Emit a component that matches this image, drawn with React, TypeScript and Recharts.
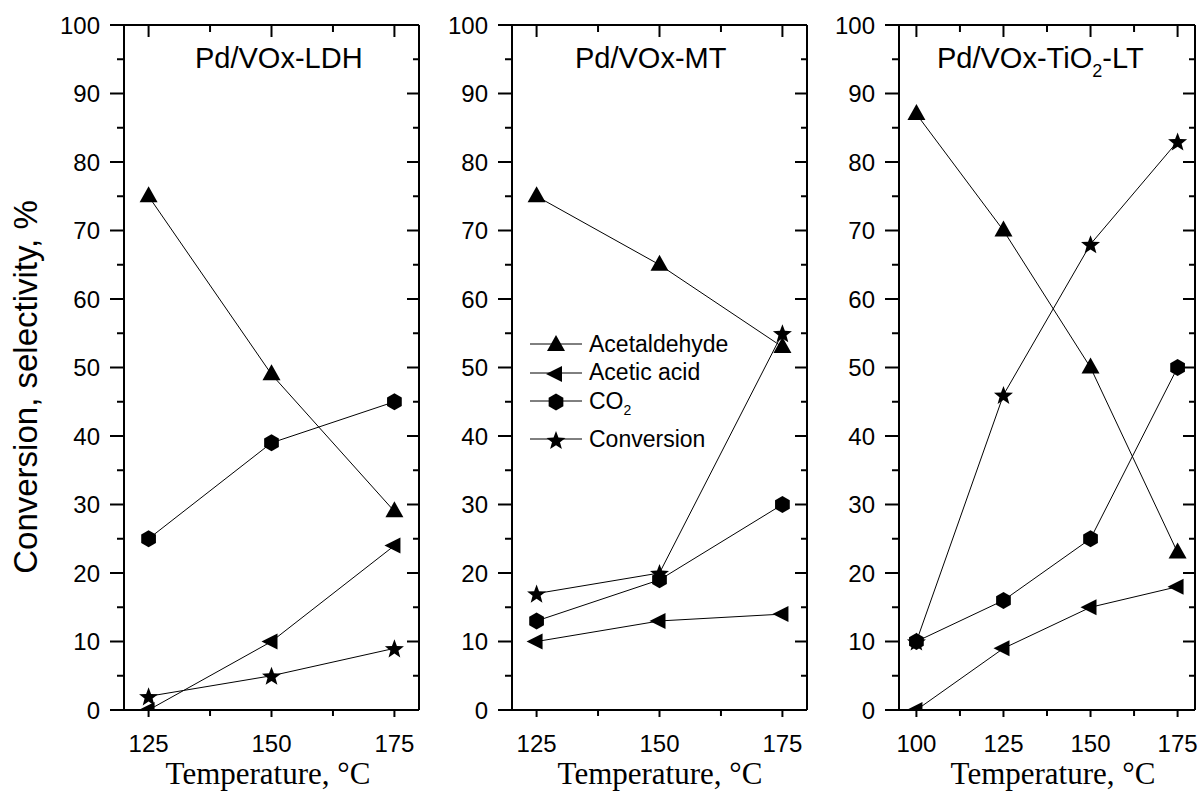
import React from 'react';
import { LineChart, Line, XAxis, YAxis, Legend } from 'recharts';

const W = 1202;
const H = 791;
const PLOT_TOP = 25;
const PLOT_BOTTOM = 710;
const SANS = 'Liberation Sans, Arial, Helvetica, sans-serif';
const SERIF = 'Liberation Serif, Times New Roman, serif';

// ---- data ----
const ldhTemps = [125, 150, 175];
const ldhAcetaldehyde = [75, 49, 29];
const ldhAceticAcid = [0, 10, 24];
const ldhCO2 = [25, 39, 45];
const ldhConversion = [2, 5, 9];

const mtTemps = [125, 150, 175];
const mtAcetaldehyde = [75, 65, 53];
const mtAceticAcid = [10, 13, 14];
const mtCO2 = [13, 19, 30];
const mtConversion = [17, 20, 55];

const tiTemps = [100, 125, 150, 175];
const tiAcetaldehyde = [87, 70, 50, 23];
const tiAceticAcid = [0, 9, 15, 18];
const tiCO2 = [10, 16, 25, 50];
const tiConversion = [10, 46, 68, 83];

const yTicks = [0, 5, 10, 15, 20, 25, 30, 35, 40, 45, 50, 55, 60, 65, 70, 75, 80, 85, 90, 95, 100];
const xTicksShort = [125, 137.5, 150, 162.5, 175];
const xTicksLong = [100, 112.5, 125, 137.5, 150, 162.5, 175];

// legend order
const seriesNames = ['Acetaldehyde', 'Acetic acid', 'CO2', 'Conversion'];
const seriesKeys = ['acetaldehyde', 'aceticAcid', 'co2', 'conversion'];
const seriesShapes = ['triUp', 'triLeft', 'hex', 'star'];
// drawing order (CO2 markers are drawn over the conversion stars)
const drawOrder = [0, 1, 3, 2];

function buildRows(temps: number[], a: number[], b: number[], c: number[], d: number[]) {
  return temps.map((t, i) => ({ t, acetaldehyde: a[i], aceticAcid: b[i], co2: c[i], conversion: d[i] }));
}

const ldhData = buildRows(ldhTemps, ldhAcetaldehyde, ldhAceticAcid, ldhCO2, ldhConversion);
const mtData = buildRows(mtTemps, mtAcetaldehyde, mtAceticAcid, mtCO2, mtConversion);
const tiData = buildRows(tiTemps, tiAcetaldehyde, tiAceticAcid, tiCO2, tiConversion);

// ---- markers ----
function Marker({ shape, cx, cy }: { shape: string; cx: number; cy: number }) {
  if (cx == null || cy == null || isNaN(cx) || isNaN(cy)) return null;
  if (shape === 'triUp') {
    return <polygon points={`${cx},${cy - 10} ${cx + 9},${cy + 6} ${cx - 9},${cy + 6}`} fill="#000" />;
  }
  if (shape === 'triLeft') {
    return <polygon points={`${cx - 10},${cy} ${cx + 6},${cy - 8} ${cx + 6},${cy + 8}`} fill="#000" />;
  }
  if (shape === 'hex') {
    const r = 8.5;
    const pts: string[] = [];
    for (let k = 0; k < 6; k++) {
      const a = (-90 + 60 * k) * Math.PI / 180;
      pts.push(`${cx + r * Math.cos(a)},${cy + r * Math.sin(a)}`);
    }
    return <polygon points={pts.join(' ')} fill="#000" />;
  }
  const pts: string[] = [];
  for (let k = 0; k < 10; k++) {
    const rr = k % 2 === 0 ? 10 : 4.2;
    const a = (-90 + 36 * k) * Math.PI / 180;
    pts.push(`${cx + rr * Math.cos(a)},${cy + 1 + rr * Math.sin(a)}`);
  }
  return <polygon points={pts.join(' ')} fill="#000" />;
}

// ---- ticks ----
const BottomTick = (props: any) => {
  const { x, y, payload } = props;
  const major = payload.value % 25 === 0;
  return (
    <g>
      <line x1={x} x2={x} y1={y} y2={y + (major ? 7 : 6)} stroke="#000" strokeWidth={2} />
      {major && (
        <text x={x} y={y + 42} textAnchor="middle" fontSize={24} fontFamily={SANS} fill="#000">
          {payload.value}
        </text>
      )}
    </g>
  );
};

const TopTick = (props: any) => {
  const { x, y, payload } = props;
  const major = payload.value % 25 === 0;
  return <line x1={x} x2={x} y1={y} y2={y + (major ? 12 : 7)} stroke="#000" strokeWidth={2} />;
};

const LeftTick = (props: any) => {
  const { x, y, payload } = props;
  const major = payload.value % 10 === 0;
  return (
    <g>
      <line x1={x} x2={x - (major ? 14 : 7)} y1={y} y2={y} stroke="#000" strokeWidth={2} />
      {major && (
        <text x={x - 24} y={y + 8.5} textAnchor="end" fontSize={24} fontFamily={SANS} fill="#000">
          {payload.value}
        </text>
      )}
    </g>
  );
};

const RightTick = (props: any) => {
  const { x, y, payload } = props;
  const major = payload.value % 10 === 0;
  return <line x1={x} x2={x - (major ? 12 : 6)} y1={y} y2={y} stroke="#000" strokeWidth={2} />;
};

// ---- legend ----
const legendRowHeights = [28.5, 28.5, 28.5, 47.5];

const renderLegend = (props: any) => {
  const payload = [...(props.payload || [])].sort(
    (a: any, b: any) => seriesKeys.indexOf(a.dataKey) - seriesKeys.indexOf(b.dataKey)
  );
  return (
    <div style={{ fontFamily: SANS, fontSize: 23, color: '#000' }}>
      {payload.map((entry: any, i: number) => {
        const idx = seriesKeys.indexOf(entry.dataKey);
        const shape = seriesShapes[idx];
        const name = seriesNames[idx];
        return (
          <div key={i} style={{ display: 'flex', alignItems: 'center', height: legendRowHeights[i] }}>
            <svg width={52} height={22} style={{ display: 'block' }}>
              <line x1={0} x2={52} y1={11} y2={11} stroke="#000" strokeWidth={1} />
              <Marker shape={shape} cx={26} cy={12} />
            </svg>
            <span style={{ marginLeft: 7, whiteSpace: 'nowrap' }}>
              {name === 'CO2' ? (
                <>
                  CO<sub style={{ fontSize: 14, lineHeight: 0 }}>2</sub>
                </>
              ) : (
                name
              )}
            </span>
          </div>
        );
      })}
    </div>
  );
};

type PanelProps = {
  data: any[];
  plotLeft: number;
  plotRight: number;
  domain: [number, number];
  xTicks: number[];
  title: React.ReactNode;
  titleX: number;
  tempCenter: number;
  showYLabel?: boolean;
  showLegend?: boolean;
};

const AX = 1; // axis band thickness (kept minimal so the axes sit on the plot frame)

function Panel({ data, plotLeft, plotRight, domain, xTicks, title, titleX, tempCenter, showYLabel, showLegend }: PanelProps) {
  return (
    <div style={{ position: 'absolute', left: 0, top: 0, width: W, height: H }}>
      <LineChart
        width={W}
        height={H}
        data={data}
        margin={{
          top: PLOT_TOP - AX,
          bottom: H - PLOT_BOTTOM - AX,
          left: plotLeft - AX,
          right: W - plotRight - AX,
        }}
      >
        <XAxis
          xAxisId="bottom"
          dataKey="t"
          type="number"
          domain={domain}
          allowDataOverflow
          ticks={xTicks}
          interval={0}
          height={AX}
          tickSize={0}
          tickMargin={0}
          tickLine={false}
          axisLine={{ stroke: '#000', strokeWidth: 2 }}
          tick={<BottomTick />}
        />
        <XAxis
          xAxisId="top"
          orientation="top"
          dataKey="t"
          type="number"
          domain={domain}
          allowDataOverflow
          ticks={xTicks}
          interval={0}
          height={AX}
          tickSize={0}
          tickMargin={0}
          tickLine={false}
          axisLine={{ stroke: '#000', strokeWidth: 2 }}
          tick={<TopTick />}
        />
        <YAxis
          yAxisId="left"
          type="number"
          domain={[0, 100]}
          allowDataOverflow
          ticks={yTicks}
          interval={0}
          width={AX}
          tickSize={0}
          tickMargin={0}
          tickLine={false}
          axisLine={{ stroke: '#000', strokeWidth: 2 }}
          tick={<LeftTick />}
        />
        <YAxis
          yAxisId="right"
          orientation="right"
          type="number"
          domain={[0, 100]}
          allowDataOverflow
          ticks={yTicks}
          interval={0}
          width={AX}
          tickSize={0}
          tickMargin={0}
          tickLine={false}
          axisLine={{ stroke: '#000', strokeWidth: 2 }}
          tick={<RightTick />}
        />
        {drawOrder.map((si) => {
          const k = seriesKeys[si];
          return (
            <Line
              key={k}
              xAxisId="bottom"
              yAxisId="left"
              dataKey={k}
              name={seriesNames[si]}
              stroke="#000"
              strokeWidth={1}
              isAnimationActive={false}
              activeDot={false}
              dot={(p: any) => (
                <g key={`${k}-${p.index}`}>
                  <Marker shape={seriesShapes[si]} cx={p.cx} cy={p.cy} />
                </g>
              )}
            />
          );
        })}
        {showLegend && (
          <Legend
            layout="vertical"
            align="center"
            verticalAlign="middle"
            content={renderLegend}
            wrapperStyle={{ left: 530, top: 329.75, width: 'auto' }}
          />
        )}
        <text x={titleX} y={68} fontSize={29} fontFamily={SANS} fill="#000">
          {title}
        </text>
        <text x={tempCenter} y={784} textAnchor="middle" fontSize={31} fontFamily={SERIF} fill="#000">
          Temperature, °C
        </text>
        {showYLabel && (
          <text
            x={37}
            y={387}
            transform="rotate(-90, 37, 387)"
            textAnchor="middle"
            fontSize={33}
            fontFamily={SANS}
            fill="#000"
          >
            Conversion, selectivity, %
          </text>
        )}
      </LineChart>
    </div>
  );
}

export default function App() {
  return (
    <div style={{ position: 'absolute', left: 0, top: 0, width: W, height: H, background: '#fff', overflow: 'hidden' }}>
      <Panel
        data={ldhData}
        plotLeft={124}
        plotRight={419}
        domain={[120, 180]}
        xTicks={xTicksShort}
        title="Pd/VOx-LDH"
        titleX={195}
        tempCenter={268}
        showYLabel
      />
      <Panel
        data={mtData}
        plotLeft={512}
        plotRight={807}
        domain={[120, 180]}
        xTicks={xTicksShort}
        title="Pd/VOx-MT"
        titleX={575}
        tempCenter={660}
        showLegend
      />
      <Panel
        data={tiData}
        plotLeft={899}
        plotRight={1195}
        domain={[95, 180]}
        xTicks={xTicksLong}
        title={
          <>
            <tspan>Pd/VOx-TiO</tspan>
            <tspan dy={9} fontSize={18}>2</tspan>
            <tspan dy={-9}>-LT</tspan>
          </>
        }
        titleX={937}
        tempCenter={1053}
      />
    </div>
  );
}
